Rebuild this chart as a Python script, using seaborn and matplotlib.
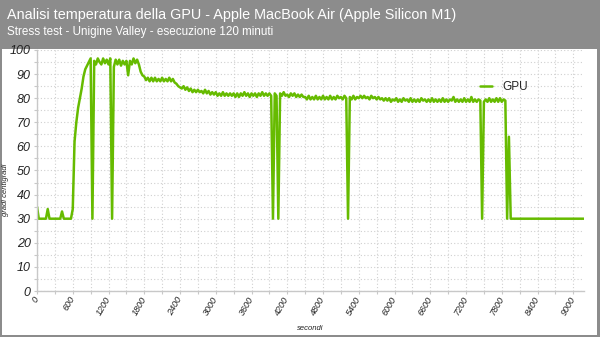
import numpy as np
import pandas as pd
import seaborn as sns
import matplotlib
matplotlib.use("Agg")
from matplotlib import pyplot as plt
from matplotlib.patches import Rectangle
from matplotlib.ticker import MultipleLocator

# campionamento ogni 30 secondi (0 .. 9180 s)
seconds = np.arange(0, 9181, 30)

idle_start = [35, 30, 30, 30, 30, 30, 34, 30, 30, 30,
              30, 30, 30, 30, 33, 30, 30, 30, 30, 30]
warmup = [34, 62, 70, 76, 80, 84, 89, 92, 93.5, 95, 96.5]
plateau = [30, 95.5, 94, 96.5, 95, 94, 96.5, 94.5, 96, 94,
           96.5, 30, 93, 96, 94, 96, 93.5, 95.5, 94, 95.5,
           89.5, 95.5, 94, 96.5, 94.5, 96, 94]
cooldown = [91, 89.5, 89, 87.5, 88.5, 87, 88.5, 87, 88.5, 87,
            88, 87, 88.5, 87, 88, 87, 88.5, 87, 88, 86.5,
            86, 85, 84.5, 84, 85, 83.5, 84.5, 83, 84, 82.5,
            83.5, 82.5, 83.5, 82.5, 83, 82, 83.5, 82, 83, 81.5,
            82.5, 81.5]
steady = [82.5, 81, 82, 81, 82.5, 81, 82, 81, 82, 81,
          82, 80.5, 82, 80.5, 82, 81, 82.5, 81, 82, 80.5,
          82, 81, 82, 80.5, 82, 81, 82.5, 81, 82, 81,
          82, 81, 30, 82, 81, 30, 82, 81, 82.5, 81,
          81.5, 80.5, 82, 81, 82, 80.5, 81.5, 80.5, 81.5, 80.5,
          80.5, 79.5, 81, 79.5, 80.5, 79.5, 81, 79.5, 80.5, 79.5,
          81, 79.5, 80.5, 79.5, 81, 79.5, 80.5, 79.5, 81, 80,
          80.5, 79.5, 81, 80, 30, 80.5, 79.5, 81, 79.5, 80.5,
          80, 81, 80, 81, 80, 80.5, 79.5, 81, 80, 80.5,
          79.5, 80.5, 79.5, 80, 79, 80, 79, 80, 78.5, 79.5,
          79, 80, 78.5, 79.5, 78.5, 80, 79, 79.5, 78.5, 80,
          78.5, 79.5, 78.5, 79.5, 78.5, 80, 79, 79.5, 78.5, 79.5,
          78.5, 80, 78.5, 79.5, 78.5, 79.5, 78.5, 80, 78.5, 79.5,
          78.5, 79.5, 79, 80.5, 78.5, 79.5, 78.5, 79.5, 78.5, 80,
          78.5, 79.5, 78.5, 80.5, 78.5, 79.5, 78.5, 79.5, 79, 30,
          78.5, 79.5, 78.5, 80, 78.5, 79.5, 78.5, 80, 78.5, 80,
          78.5, 79.5, 79]
shutdown = [30, 64, 30] + [30] * 41

gpu_temp = idle_start + warmup + plateau + cooldown + steady + shutdown

df = pd.DataFrame({"secondi": seconds, "GPU": gpu_temp})

sns.set_style("whitegrid")
plt.rcParams["font.family"] = ["Liberation Sans", "DejaVu Sans"]

fig = plt.figure(figsize=(6, 3.37), dpi=100, facecolor="#8c8c8c")
fig.patches.append(Rectangle((2 / 600, 2 / 337), 595 / 600, 286 / 337,
                             transform=fig.transFigure, facecolor="white",
                             edgecolor="none", zorder=-1))

fig.text(7 / 600, 1 - 19 / 337, "Analisi temperatura della GPU - Apple MacBook Air (Apple Silicon M1)",
         color="white", fontsize=10.4, ha="left", va="baseline")
fig.text(7 / 600, 1 - 35 / 337, "Stress test - Unigine Valley - esecuzione 120 minuti",
         color="white", fontsize=8.4, ha="left", va="baseline")

ax = fig.add_axes([37 / 600, 1 - 291 / 337, 547 / 600, 241 / 337])
ax.set_facecolor("white")

sns.lineplot(data=df, x="secondi", y="GPU", ax=ax, color="#66bb00",
             linewidth=1.8, label="GPU")

ax.set_xlim(0, 9180)
ax.set_ylim(0, 100)
ax.xaxis.set_major_locator(MultipleLocator(600))
ax.xaxis.set_minor_locator(MultipleLocator(300))
ax.yaxis.set_major_locator(MultipleLocator(10))
ax.yaxis.set_minor_locator(MultipleLocator(5))

ax.grid(which="both", color="#d0d0d0", linestyle=(0, (1, 2)), linewidth=0.8)
for side in ["top", "right"]:
    ax.spines[side].set_visible(False)
for side in ["left", "bottom"]:
    ax.spines[side].set_color("#c8c8c8")
    ax.spines[side].set_linewidth(1)

ax.tick_params(which="both", length=2.5, color="#c8c8c8", width=0.8,
               labelcolor="#222222", bottom=True, left=True)
ax.tick_params(axis="y", labelsize=9, pad=2)
ax.tick_params(axis="x", labelsize=6.5, pad=2)
for lab in ax.get_yticklabels():
    lab.set_fontstyle("italic")
for lab in ax.get_xticklabels():
    lab.set_fontstyle("italic")
    lab.set_rotation(60)
    lab.set_ha("right")
    lab.set_va("center")
    lab.set_rotation_mode("anchor")

ax.set_xlabel("secondi", fontsize=5.5, fontstyle="italic", color="#222222")
ax.set_ylabel("gradi centigradi", fontsize=5.5, fontstyle="italic", color="#222222")
ax.xaxis.set_label_coords(0.5, -0.14)
ax.yaxis.set_label_coords(-0.052, 0.42)

ax.legend(loc="center left", bbox_to_anchor=(0.81, 0.846), frameon=False,
          fontsize=8.5, handlelength=1.0, handletextpad=0.9, borderpad=0,
          borderaxespad=0)

fig.savefig("out.png", dpi=100, facecolor=fig.get_facecolor())
